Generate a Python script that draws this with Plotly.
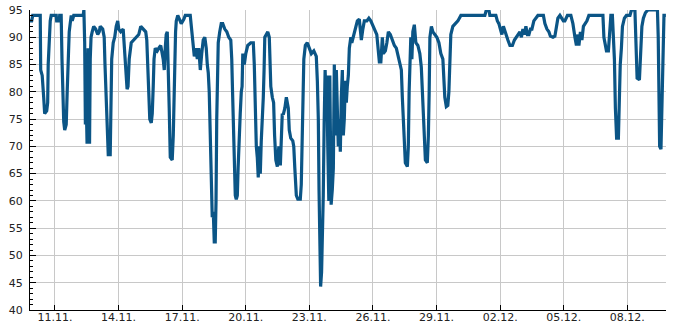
import datetime as dt
import plotly.graph_objects as go

# start of the series and hour offsets of the readings
start = dt.datetime(2023, 11, 9, 19, 45)

hours = [
    0.0, 1.9, 3.1, 11.6, 12.1, 13.8, 15.5, 16.6, 18.9, 20.0, 20.6, 21.7, 22.9, 24.0,
    29.7, 30.2, 33.1, 33.6, 35.3, 36.2, 37.0, 38.2, 39.3, 41.0, 42.1, 43.3, 44.4, 45.5,
    46.7, 47.8, 49.5, 60.2, 61.0, 61.9, 62.7, 63.6, 64.6, 65.7, 66.5, 67.4, 68.2, 69.1,
    70.4, 72.1, 74.4, 76.7, 78.4, 79.5, 82.3, 84.0, 84.9, 86.3, 87.4, 88.6, 90.8, 91.7,
    92.5, 94.2, 95.9, 97.6, 99.3, 100.5, 102.7, 105.5, 106.9, 108.4, 109.9, 111.0, 112.3,
    114.6, 117.4, 120.3, 123.1, 125.4, 128.2, 131.0, 132.2, 133.3, 134.4, 135.6, 137.3,
    138.4, 139.5, 140.4, 141.8, 144.1, 145.8, 148.0, 150.8, 152.0, 153.1, 154.2, 155.4,
    156.5, 157.6, 158.8, 161.0, 162.2, 163.1, 163.9, 164.8, 165.6, 167.3, 169.5, 171.2,
    174.1, 175.8, 181.4, 183.1, 184.3, 186.0, 187.7, 189.4, 191.0, 192.8, 194.4, 196.1,
    197.9, 199.5, 200.7, 201.8, 202.9, 204.1, 205.2, 206.3, 207.5, 208.6, 209.7, 210.6,
    211.4, 212.3, 213.1, 214.8, 216.5, 218.2, 220.5, 222.8, 225.0, 227.3, 228.4, 229.3,
    230.1, 231.3, 232.4, 233.5, 234.7, 235.6, 236.9, 238.0, 239.2, 240.1, 240.9, 242.6,
    244.3, 246.5, 249.9, 252.8, 253.9, 255.0, 256.2, 257.3, 258.4, 259.6, 260.7, 261.8,
    263.0, 264.1, 265.0, 265.8, 267.5, 269.2, 270.9, 271.8, 272.6, 274.3, 275.8, 276.9,
    278.3, 280.0, 281.7, 283.4, 284.5, 285.6, 286.7, 288.5, 290.2, 292.4, 293.5, 295.2,
    297.5, 298.6, 299.8, 301.5, 303.2, 306.0, 307.1, 308.3, 309.2, 310.0, 311.7, 313.9,
    316.2, 318.5, 321.3, 324.1, 325.3, 326.4, 327.2, 328.1, 329.0, 330.1, 331.3, 332.0,
    333.0, 334.1, 335.2, 336.0, 337.1, 338.3, 339.4, 340.9, 342.2, 343.4, 344.5, 345.6,
    346.8, 347.9, 349.0, 350.2, 351.3, 352.4, 353.6, 354.7, 355.8, 357.0, 358.1, 359.2,
    360.4, 361.5, 363.2, 364.3, 366.6, 368.3, 370.6, 372.8, 375.1, 376.8, 378.5, 381.3,
    383.6, 385.8, 388.1, 390.4, 392.6, 394.1, 395.5, 397.2, 398.9, 400.0, 402.3, 404.0,
    405.7, 407.9, 410.2, 412.5, 414.7, 417.0, 419.2, 420.4, 421.5, 422.7, 423.8, 424.9,
    427.2, 428.3, 429.2, 430.0, 431.1, 432.3, 433.4, 435.1, 436.8, 439.1, 441.3, 443.0,
    444.2, 445.3, 446.4, 447.6, 449.8, 451.0, 451.9, 452.7, 454.4, 456.1, 458.3, 460.6,
    462.9, 465.1, 467.4, 468.5, 469.6, 471.3, 473.0, 474.2, 475.3, 476.4, 478.7, 481.0,
    484.4, 487.8, 514.9, 516.6, 519.5, 520.6, 527.4, 529.1, 530.8, 532.5, 534.2, 535.9,
    537.6, 539.3, 541.0, 543.3, 546.1, 548.4, 550.6, 552.9, 554.6, 556.3, 558.0, 559.7,
    561.4, 563.1, 564.8, 566.5, 568.2, 570.4, 572.7, 575.0, 581.2, 582.9, 585.2, 587.4,
    589.1, 592.0, 594.2, 595.9, 597.6, 599.9, 602.2, 603.8, 605.5, 608.4, 612.3, 614.6,
    616.9, 618.6, 620.3, 621.4, 623.1, 624.8, 626.5, 628.2, 630.5, 632.7, 648.6, 649.7,
    650.8, 652.6, 654.8, 656.2, 657.6, 659.3, 660.5, 661.6, 662.7, 664.1, 666.1, 667.0,
    668.2, 669.5, 670.7, 672.9, 675.2, 679.2, 680.9, 684.8, 686.0, 687.3, 689.9, 691.6,
    692.7, 694.4, 696.7, 699.5, 710.3, 711.2, 712.0, 712.8, 714.3, 715.2, 716.0, 716.9,
    717.7, 719.9,
]

values = [
    93, 93, 94, 94, 84, 83, 79, 76, 76.5, 78, 85, 91, 93, 94,
    94, 93, 93, 94, 94, 86, 79, 74.5, 73, 74, 80, 89, 91, 92.5,
    94, 93, 94, 94, 95, 89, 74, 79, 70.5, 88, 72, 70.5, 86, 90,
    91, 92, 91.5, 90.5, 91, 92, 91.5, 90, 85, 79, 72, 68.5, 68.5, 80,
    86, 89, 90, 92, 93, 91.5, 91, 91.5, 88, 84, 80.5, 81, 86,
    89, 89.5, 90, 90.5, 92, 91.5, 91, 89.5, 84, 80, 75, 74.3,
    76, 81, 86, 88, 87.5, 88, 88.5, 86, 84, 88, 90.5, 91,
    86, 77, 68, 67.5, 72, 80, 87, 91, 93, 94, 93.2, 92.5,
    93.3, 94, 94, 91, 89, 86.5, 88, 86, 88, 84, 87, 89.5,
    90, 88, 85, 83.5, 80, 70, 60, 57, 58, 52.5, 52.5, 60,
    75, 86, 89, 91, 92.5, 92.5, 91.5, 91, 90, 89.5, 86, 80,
    75, 66, 61, 60.3, 61, 66, 70, 76, 80, 81, 87, 85,
    87, 88.5, 89, 89, 85, 77, 70, 68, 64.3, 70, 65, 71,
    74.5, 79, 84, 90, 90.5, 91, 90, 86.5, 81, 79, 78, 72,
    67.5, 66.3, 70, 66.5, 72, 76, 75.8, 77, 79, 77, 73, 71.5,
    71, 70, 66, 61, 60.3, 60.3, 63, 72, 80, 86, 88.5, 89,
    88, 87, 87.5, 86.5, 82, 75, 62, 50, 44.3, 47, 53, 61,
    74, 84, 78, 83, 70, 60, 83, 59.3, 62, 66, 85, 72,
    84, 79, 70, 75, 69, 79, 84, 72, 75, 82, 78, 81,
    83, 88, 90, 89, 90.5, 92, 93, 93.3, 89.5, 91.5, 93, 93,
    93.5, 93, 92, 91.3, 90.5, 87, 85.5, 85.5, 90, 87, 87.5, 89,
    91, 90.5, 89.5, 88.5, 88, 86.5, 85, 84, 79, 75, 70, 67,
    66.3, 70, 80, 88, 90, 86, 91, 92.3, 89, 88.5, 87, 84.5,
    80, 74, 70, 67.5, 67, 72, 80, 90, 92, 91, 90.5, 90,
    89, 87, 86, 82, 79, 77.3, 77.5, 80, 86, 90.5, 92, 92.5,
    93, 94, 94, 95, 95, 94, 94, 93, 92.5, 91.5, 90.5, 92,
    91, 90, 89.5, 88.5, 88.5, 89.5, 90, 90.5, 91, 90, 91.5, 90.5,
    92, 90.5, 90.5, 91.5, 91.5, 93, 93.5, 94, 94, 92.5, 91.5, 91,
    90.2, 90, 90.2, 91.5, 93.5, 94, 93.5, 93, 93, 94, 94, 92.5,
    90, 88.5, 90.5, 88.5, 91, 89.5, 92, 92.5, 93, 94, 94, 90,
    89, 87.5, 87.5, 92, 94, 94, 90, 86, 77, 71.5, 71.5, 80,
    85, 88, 92, 93.5, 94, 94, 95, 95, 90, 82.5, 82.2, 87,
    92, 93.5, 94.5, 95, 95, 90, 78, 70, 69.5, 76, 84, 90,
    94, 94,
]

span_hours = 720
y_range = [40, 95]
y_step = 5
y_minor_ticks = list(range(40, 96))
x_tick_start = "2023-11-11"
x_tick_days = 3

times = [start + dt.timedelta(hours=h) for h in hours]
end = start + dt.timedelta(hours=span_hours)

fig = go.Figure()
fig.add_trace(go.Scatter(
    x=times, y=values, mode="lines",
    line=dict(color="#0b5586", width=3.2),
    hoverinfo="skip", showlegend=False,
))
# invisible trace to bind the minor-tick axis
fig.add_trace(go.Scatter(x=[start], y=[y_range[0]], yaxis="y2", mode="markers",
                         marker=dict(opacity=0), hoverinfo="skip", showlegend=False))

axis_font = dict(family="DejaVu Sans", size=11, color="#222222")

fig.update_layout(
    width=685, height=330,
    margin=dict(l=30, r=19, t=10, b=20, autoexpand=False),
    paper_bgcolor="white", plot_bgcolor="white",
    xaxis=dict(
        type="date", range=[start, end], automargin=False,
        tick0=x_tick_start, dtick=x_tick_days * 86400000,
        tickformat="%d.%m.",
        showgrid=True, gridcolor="#c8c8c8", gridwidth=1,
        ticks="inside", ticklen=5, tickcolor="black",
        showline=True, linecolor="black", linewidth=1,
        zeroline=False, tickfont=axis_font,
    ),
    yaxis=dict(
        range=y_range, dtick=y_step, tick0=0, automargin=False,
        showgrid=True, gridcolor="#c8c8c8", gridwidth=1,
        ticks="inside", ticklen=6, tickcolor="black",
        showline=True, linecolor="black", linewidth=1,
        zeroline=False, tickfont=axis_font, ticklabelstandoff=4,
    ),
    yaxis2=dict(
        range=y_range, overlaying="y", side="left", anchor="x", automargin=False,
        tickmode="array", tickvals=y_minor_ticks,
        ticks="inside", ticklen=3, tickcolor="black", tickwidth=1,
        showticklabels=False, showgrid=False, zeroline=False, showline=False,
    ),
)
try:
    fig.update_xaxes(ticklabelstandoff=-3)
except ValueError:
    pass

fig.write_html("out.html")
